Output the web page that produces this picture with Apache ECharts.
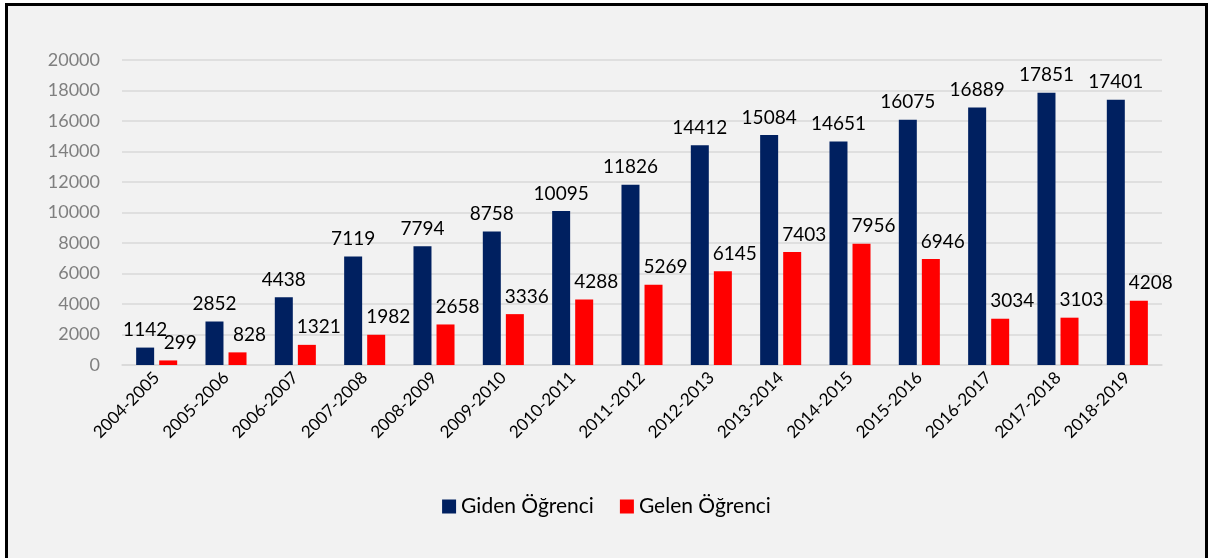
<!doctype html>
<html>
    <head>
        <meta charset="utf-8">
        <style>
            html, body { margin: 0; padding: 0; background: #fff; overflow: hidden; }
            #main {
                position: absolute; left: 5px; top: 3px;
                width: 1203px; height: 560px;
                box-sizing: border-box;
                border: 3px solid #000;
                background: #f2f2f2;
            }
        </style>
    </head>
    <body>
        <div id="main"></div>
        <script src="https://cdn.jsdelivr.net/npm/echarts@6/dist/echarts.min.js"></script>
        <script>
            var years = ['2004-2005', '2005-2006', '2006-2007', '2007-2008', '2008-2009',
                '2009-2010', '2010-2011', '2011-2012', '2012-2013', '2013-2014',
                '2014-2015', '2015-2016', '2016-2017', '2017-2018', '2018-2019'];
            var giden = [1142, 2852, 4438, 7119, 7794, 8758, 10095, 11826, 14412, 15084, 14651, 16075, 16889, 17851, 17401];
            var gelen = [299, 828, 1321, 1982, 2658, 3336, 4288, 5269, 6145, 7403, 7956, 6946, 3034, 3103, 4208];

            var font = 'Lato, "Open Sans", sans-serif';
            var chart = echarts.init(document.getElementById('main'));

            chart.setOption({
                backgroundColor: '#f2f2f2',
                animation: false,
                textStyle: { fontFamily: font },
                grid: { left: 114, right: 43, top: 54, height: 305 },
                legend: {
                    top: 485,
                    left: 'center',
                    itemWidth: 14,
                    itemHeight: 14,
                    itemGap: 26,
                    icon: 'rect',
                    textStyle: { fontSize: 21, color: '#000', fontFamily: font }
                },
                xAxis: {
                    type: 'category',
                    data: years,
                    axisLine: { lineStyle: { color: '#d9d9d9', width: 1.5 } },
                    axisTick: { show: false },
                    axisLabel: { rotate: 45, fontSize: 17, color: '#000', margin: 10, interval: 0 }
                },
                yAxis: {
                    type: 'value',
                    min: 0,
                    max: 20000,
                    interval: 2000,
                    axisLine: { show: false },
                    axisTick: { show: false },
                    axisLabel: {
                        fontSize: 18, color: '#7f7f7f', margin: 22,
                        formatter: function (v) { return String(v); }
                    },
                    splitLine: { lineStyle: { color: '#d9d9d9', width: 1.5 } }
                },
                series: [
                    {
                        name: 'Giden Öğrenci',
                        type: 'bar',
                        data: giden,
                        barWidth: 18,
                        barGap: '28%',
                        itemStyle: { color: '#002060' },
                        label: { show: true, position: 'top', distance: 8, fontSize: 19, color: '#000' }
                    },
                    {
                        name: 'Gelen Öğrenci',
                        type: 'bar',
                        data: gelen,
                        barWidth: 18,
                        itemStyle: { color: '#ff0000' },
                        label: { show: true, position: 'top', distance: 8, offset: [12, 0], fontSize: 19, color: '#000' }
                    }
                ]
            });

            window.onresize = chart.resize;
        </script>
    </body>
</html>
